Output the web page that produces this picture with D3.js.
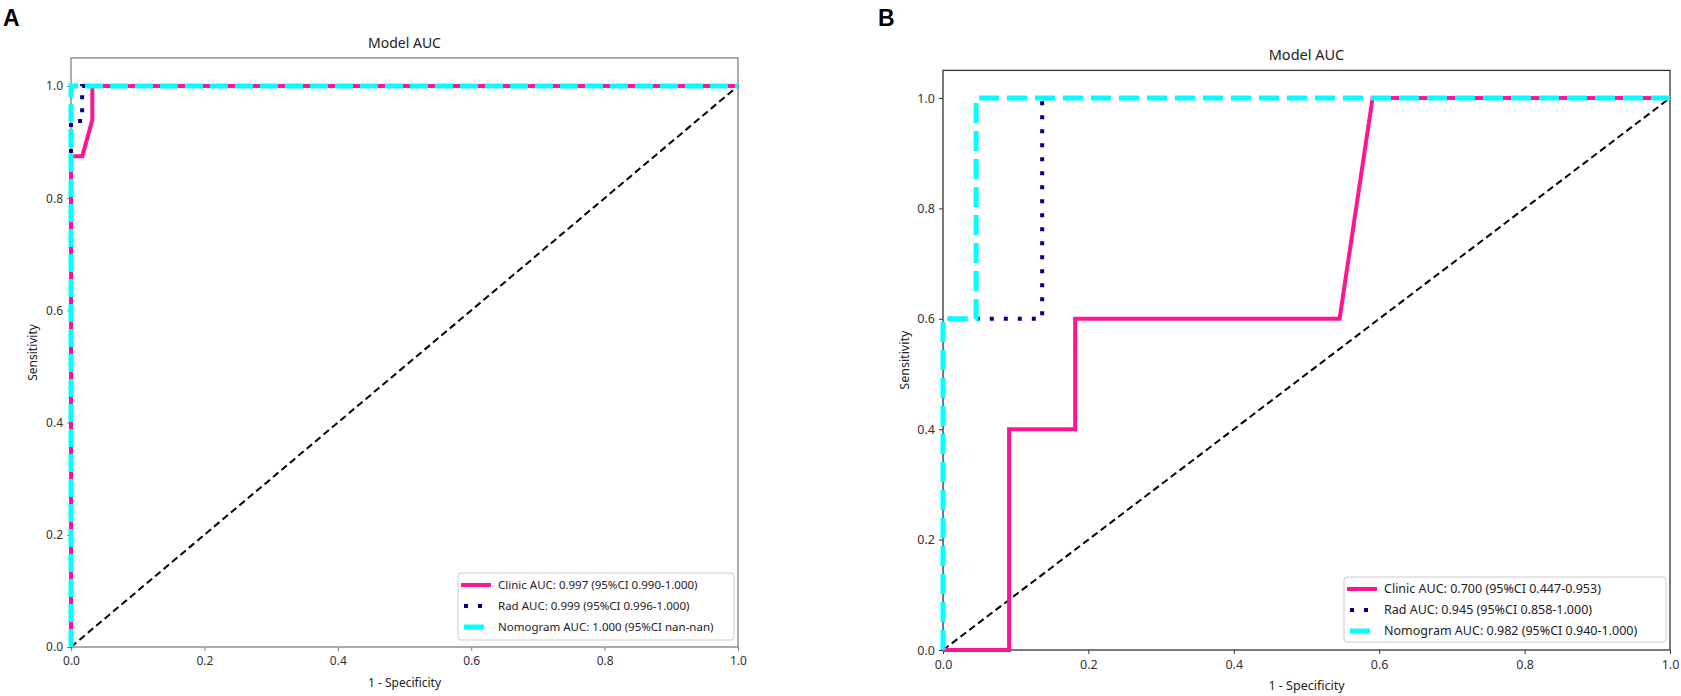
<!DOCTYPE html>
<html><head><meta charset="utf-8">
<script src="https://cdn.jsdelivr.net/npm/d3@7"></script>
<style>body{margin:0;background:#fff}svg{display:block}text{font-family:"Noto Sans","Open Sans",sans-serif}</style>
</head><body>
<svg id="c" width="1681" height="696"></svg>
<script>
const ticks = [0, 0.2, 0.4, 0.6, 0.8, 1.0];
const seriesNames = ["Clinic", "Rad", "Nomogram"];
// Panel A ROC points [fpr, tpr]
const aClinic = [[0,0],[0,0.875],[0.017,0.875],[0.032,0.94],[0.032,1],[1,1]];
const aRad = [[0,0],[0,0.9375],[0.0167,0.9375],[0.0167,1],[1,1]];
const aNomo = [[0,0],[0,1],[1,1]];
const aLegend = ["Clinic AUC: 0.997 (95%CI 0.990-1.000)", "Rad AUC: 0.999 (95%CI 0.996-1.000)", "Nomogram AUC: 1.000 (95%CI nan-nan)"];
// Panel B ROC points
const bClinic = [[0,0],[0.0909,0],[0.0909,0.4],[0.1818,0.4],[0.1818,0.6],[0.5455,0.6],[0.5909,1],[1,1]];
const bRad = [[0,0],[0,0.6],[0.1364,0.6],[0.1364,1],[1,1]];
const bNomo = [[0,0],[0,0.6],[0.0455,0.6],[0.0455,1],[1,1]];
const bLegend = ["Clinic AUC: 0.700 (95%CI 0.447-0.953)", "Rad AUC: 0.945 (95%CI 0.858-1.000)", "Nomogram AUC: 0.982 (95%CI 0.940-1.000)"];
const diag = [[0,0],[1,1]];

const svg = d3.select("#c");

function panel(o){
  const g = svg.append("g");
  const x = d3.scaleLinear().domain([0,1]).range([o.x0, o.x1]);
  const y = d3.scaleLinear().domain([0,1]).range([o.y0, o.y1]);
  const top = y(1.05);
  const line = d3.line().x(d=>x(d[0])).y(d=>y(d[1]));
  g.append("rect").attr("x", o.x0).attr("y", top).attr("width", o.x1-o.x0).attr("height", o.y0-top)
    .attr("fill","none").attr("stroke", o.frame).attr("stroke-width",1.3);
  const xa = g.append("g").attr("transform",`translate(0,${o.y0})`)
    .call(d3.axisBottom(x).tickValues(ticks).tickFormat(d3.format(".1f")).tickSize(4).tickSizeOuter(0));
  const ya = g.append("g").attr("transform",`translate(${o.x0},0)`)
    .call(d3.axisLeft(y).tickValues(ticks).tickFormat(d3.format(".1f")).tickSize(4).tickSizeOuter(0));
  [xa,ya].forEach(a=>{
    a.select(".domain").remove();
    a.selectAll("line").attr("stroke", o.frame);
    a.selectAll("text").attr("fill","#333").style("font-size", o.fs+"px");
  });
  xa.selectAll("text").attr("dy","0.95em");
  ya.selectAll("text").attr("dx","-1px");
  g.append("text").attr("x",(o.x0+o.x1)/2).attr("y", top-10).attr("text-anchor","middle")
    .attr("fill","#222").style("font-size",(o.fs+2)+"px").text("Model AUC");
  g.append("text").attr("x",(o.x0+o.x1)/2).attr("y", o.y0+40).attr("text-anchor","middle")
    .attr("fill","#222").style("font-size",o.fs+"px").text("1 - Specificity");
  g.append("text").attr("transform",`translate(${o.x0-34},${(o.y0+top)/2}) rotate(-90)`).attr("text-anchor","middle")
    .attr("fill","#222").style("font-size",o.fs+"px").text("Sensitivity");
  g.append("text").attr("x", o.lx).attr("y", 26).attr("fill","#000")
    .style("font-size","23px").style("font-weight","bold").style("font-family","Liberation Sans, Arial, sans-serif").text(o.letter);
  g.append("path").attr("d", line(diag)).attr("fill","none").attr("stroke","#000").attr("stroke-width",2).attr("stroke-dasharray","7,4");
  const styles = [
    {c:"#ff1493", w:4, da:null},
    {c:"#000080", w:4, da:o.dot},
    {c:"#00ffff", w:5, da:o.dash}
  ];
  // draw order: Rad, Clinic, Nomogram (clinic shows through nomogram gaps)
  [1,0,2].forEach(i=>{
    const p = g.append("path").attr("d", line(o.series[i])).attr("fill","none").attr("stroke",styles[i].c)
      .attr("stroke-width",styles[i].w).attr("stroke-linejoin","miter");
    if(styles[i].da) p.attr("stroke-dasharray", styles[i].da);
  });
  const L = o.leg;
  g.append("rect").attr("x",L.x).attr("y",L.y).attr("width",L.w).attr("height",L.h).attr("rx",3)
    .attr("fill","#fff").attr("stroke","#ccc").attr("stroke-width",1);
  o.labels.forEach((t,i)=>{
    const yy = L.y + 12 + i*21;
    const ln = g.append("line").attr("x1",L.x+3).attr("x2",L.x+33).attr("y1",yy).attr("y2",yy)
      .attr("stroke",styles[i].c).attr("stroke-width",styles[i].w);
    if(i===1) ln.attr("stroke-dasharray","4,10").attr("x1",L.x+6);
    if(i===2) ln.attr("x1",L.x+6).attr("x2",L.x+26);
    g.append("text").attr("x",L.x+40).attr("y",yy).attr("dy","0.35em").attr("fill","#222")
      .style("font-size",L.fs+"px").text(t);
  });
}

panel({x0:71, x1:738, y0:647, y1:86, frame:"#808080", fs:12, letter:"A", lx:3,
  series:[aClinic,aRad,aNomo], labels:aLegend, dot:"4,9", dash:"18,7",
  leg:{x:458,y:573,w:276,h:67,fs:11.5}});
panel({x0:943, x1:1670, y0:650, y1:98, frame:"#333", fs:12.5, letter:"B", lx:878,
  series:[bClinic,bRad,bNomo], labels:bLegend, dot:"4,10", dash:"20,8",
  leg:{x:1344,y:577,w:322,h:65,fs:12.5}});
</script>
</body></html>
